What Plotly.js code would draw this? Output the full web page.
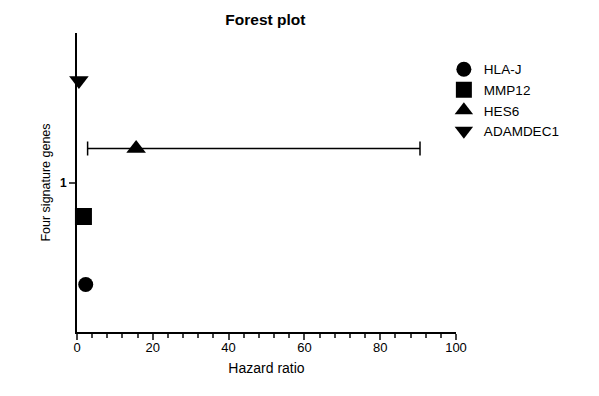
<!DOCTYPE html>
<html>
<head>
<meta charset="utf-8">
<script src="https://cdn.plot.ly/plotly-3.0.1.min.js"></script>
<style>
  body { margin: 0; background: #fff; }
  #forest-plot { width: 599px; height: 396px; }
</style>
</head>
<body>
<div id="forest-plot"></div>
<script>
// Gene names, symbols and their position on the y axis
var genes = ["HLA-J", "MMP12", "HES6", "ADAMDEC1"];
var symbols = ["circle", "square", "triangle-up", "triangle-down"];
var genePos = [0.7, 0.9, 1.1, 1.3];

// Hazard ratios (only HES6 has a visible CI)
var hazardRatios = [2.3, 1.7, 15.6, 0.5];
var ciLower = [null, null, 2.8, null];
var ciUpper = [null, null, 90.5, null];

// One trace per gene so each gets its own legend entry
var data = genes.map(function (gene, i) {
  var trace = {
    x: [hazardRatios[i]],
    y: [genePos[i]],
    name: gene,
    type: "scatter",
    mode: "markers",
    marker: { symbol: symbols[i], size: i == 0 ? 15 : 17, color: "#000" },
    cliponaxis: false
  };
  if (ciLower[i] !== null) {
    trace.error_x = {
      type: "data",
      symmetric: false,
      array: [ciUpper[i] - hazardRatios[i]],
      arrayminus: [hazardRatios[i] - ciLower[i]],
      color: "#000",
      thickness: 1.5,
      width: 7
    };
  }
  return trace;
});

var layout = {
  width: 599,
  height: 396,
  margin: { l: 77, r: 143, t: 33, b: 64 },
  paper_bgcolor: "#fff",
  plot_bgcolor: "#fff",
  font: { family: "Liberation Sans, Arial, sans-serif", color: "#000", size: 12 },
  title: {
    text: "<b>Forest plot</b>",
    font: { size: 15.5 },
    x: 0.443,
    xanchor: "center",
    y: 0.95,
    yanchor: "middle"
  },
  xaxis: {
    title: { text: "Hazard ratio", font: { size: 14 }, standoff: 10 },
    range: [0, 100],
    dtick: 20,
    tick0: 0,
    ticks: "outside",
    ticklen: 6,
    tickwidth: 2,
    ticklabelstandoff: -4,
    tickfont: { size: 13 },
    minor: { dtick: 4, ticks: "outside", ticklen: 4, tickwidth: 2, showgrid: false },
    showline: true,
    linewidth: 2,
    linecolor: "#000",
    showgrid: false,
    zeroline: false
  },
  yaxis: {
    title: { text: "Four signature genes", font: { size: 12.5 }, standoff: 7 },
    range: [0.56, 1.44],
    tickvals: [1],
    ticktext: ["<b>1</b>"],
    ticks: "outside",
    ticklen: 6,
    tickwidth: 2,
    tickfont: { size: 12 },
    showline: true,
    linewidth: 2,
    linecolor: "#000",
    showgrid: false,
    zeroline: false
  },
  legend: {
    x: 0.968,
    xanchor: "left",
    y: 0.93,
    yanchor: "top",
    font: { size: 13.5 },
    tracegroupgap: 0,
    bgcolor: "rgba(0,0,0,0)"
  },
  showlegend: true
};

Plotly.newPlot("forest-plot", data, layout, { displayModeBar: false });
</script>
</body>
</html>
